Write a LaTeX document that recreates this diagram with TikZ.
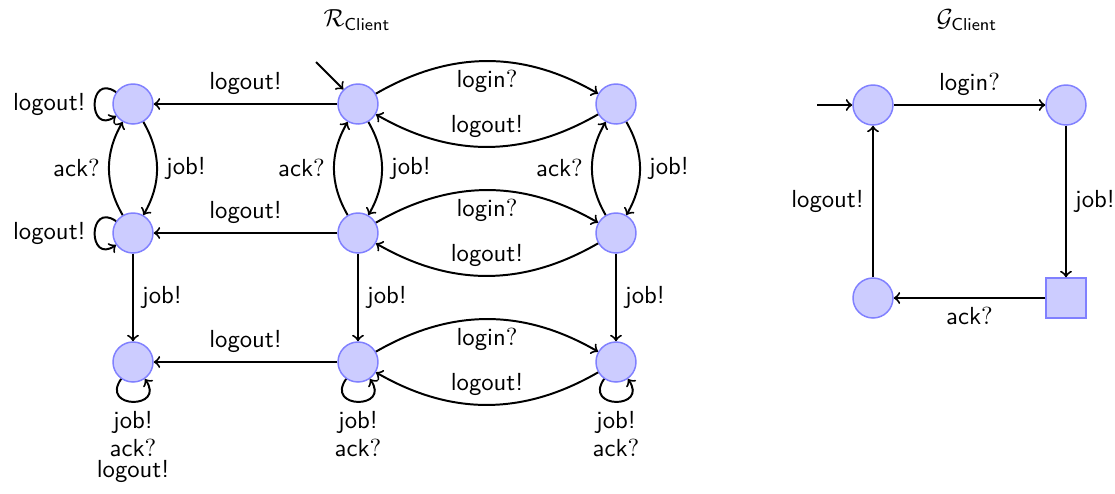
\documentclass[tikz,border=0pt]{standalone}
\begin{document}
\begin{tikzpicture}[x=0.405pt,y=-0.405pt,
  every node/.append style={font=\sffamily},
  st/.style={circle,draw=blue!50,fill=blue!20,semithick,minimum size=16.2pt,inner sep=0pt},
  sq/.style={rectangle,draw=blue!50,fill=blue!20,semithick,minimum size=16.2pt,inner sep=0pt},
  tr/.style={->,thick},
  lloop/.style={out=145,in=215,looseness=1,min distance=14pt},
  bloop/.style={out=235,in=305,looseness=1,min distance=15pt}]
\useasboundingbox (0,0) rectangle (1115,493);
% titles
\node (tR) at (357,20) {$\mathcal{R}_{\mathsf{Client}}$};
\node (tG) at (967,20) {$\mathcal{G}_{\mathsf{Client}}$};
% states of R
\node[st] (a1) at (133,104) {};
\node[st] (b1) at (358,104) {};
\node[st] (c1) at (616,104) {};
\node[st] (a2) at (133,233) {};
\node[st] (b2) at (358,233) {};
\node[st] (c2) at (616,233) {};
\node[st] (a3) at (133,362) {};
\node[st] (b3) at (358,362) {};
\node[st] (c3) at (616,362) {};
\coordinate (i1) at (316,62);
\draw[tr] (i1) -- (b1);
% horizontal straight
\draw[tr] (b1) -- node[above] {logout!} (a1);
\draw[tr] (b2) -- node[above] {logout!} (a2);
\draw[tr] (b3) -- node[above] {logout!} (a3);
% horizontal bends
\draw[tr] (b1) to[bend left] node[below] {login$?$} (c1);
\draw[tr] (c1) to[bend left] node[above] {logout!} (b1);
\draw[tr] (b2) to[bend left] node[below] {login$?$} (c2);
\draw[tr] (c2) to[bend left] node[above] {logout!} (b2);
\draw[tr] (b3) to[bend left] node[below] {login$?$} (c3);
\draw[tr] (c3) to[bend left] node[above] {logout!} (b3);
% vertical bends
\draw[tr] (a1) to[bend left] node[right] {job!} (a2);
\draw[tr] (a2) to[bend left] node[left] {ack$?$} (a1);
\draw[tr] (b1) to[bend left] node[right] {job!} (b2);
\draw[tr] (b2) to[bend left] node[left] {ack$?$} (b1);
\draw[tr] (c1) to[bend left] node[right] {job!} (c2);
\draw[tr] (c2) to[bend left] node[left] {ack$?$} (c1);
% vertical straight
\draw[tr] (a2) -- node[right] {job!} (a3);
\draw[tr] (b2) -- node[right] {job!} (b3);
\draw[tr] (c2) -- node[right] {job!} (c3);
% loops
\draw[tr] (a1) to[lloop] node[left] {logout!} (a1);
\draw[tr] (a2) to[lloop] node[left] {logout!} (a2);
\draw[tr] (a3) to[bloop] node[below,align=center] {job!\\[-0.3pt]ack$?$\\[-3.5pt]logout!} (a3);
\draw[tr] (b3) to[bloop] node[below,align=center] {job!\\[-0.3pt]ack$?$} (b3);
\draw[tr] (c3) to[bloop] node[below,align=center] {job!\\[-0.3pt]ack$?$} (c3);
% G
\node[st] (g1) at (873,105) {};
\node[st] (g2) at (1066,105) {};
\node[sq] (g3) at (1066,298) {};
\node[st] (g4) at (873,298) {};
\coordinate (i2) at (817,105);
\draw[tr] (i2) -- (g1);
\draw[tr] (g1) -- node[above] {login$?$} (g2);
\draw[tr] (g2) -- node[right] {job!} (g3);
\draw[tr] (g3) -- node[below] {ack$?$} (g4);
\draw[tr] (g4) -- node[left] {logout!} (g1);
\end{tikzpicture}
\end{document}
